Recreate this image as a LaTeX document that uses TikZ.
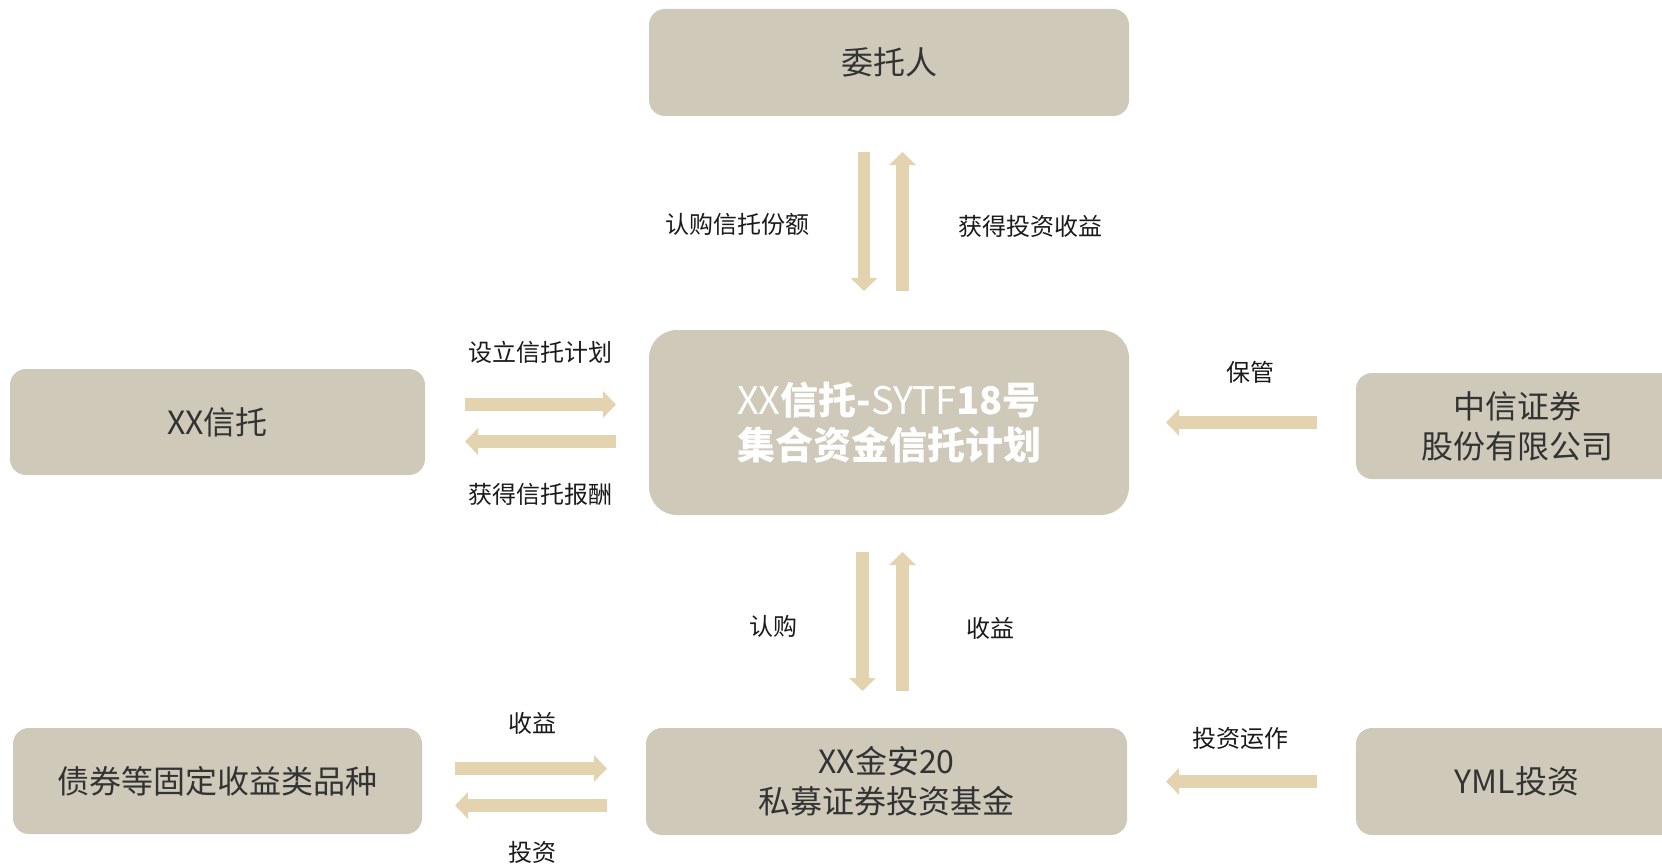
\documentclass[tikz,border=0pt]{standalone}
\usepackage{fontspec}
\setmainfont{Noto Sans CJK SC}
\usetikzlibrary{arrows.meta}
\definecolor{boxfill}{HTML}{CFC9BA}
\definecolor{arrowc}{HTML}{E3D3AF}
\definecolor{txt}{HTML}{333333}
\definecolor{lbltxt}{HTML}{1A1A1A}
\begin{document}
\begin{tikzpicture}[x=1pt,y=-1pt,
  box/.style={fill=boxfill, rounded corners=16pt, minimum height=107pt, inner sep=0pt,
    text=txt, font=\fontsize{32}{40}\selectfont, align=center},
  flow/.style={draw=arrowc, line width=12.5pt, -{Triangle[width=26pt,length=13pt]}},
  lbl/.style={font=\fontsize{24}{28}\selectfont, text=lbltxt, inner sep=0pt}]
\useasboundingbox (0,0) rectangle (1662,864);
% boxes
\node[box, minimum width=480pt] (wt) at (889,62.5) {委托人};
\node[box, minimum width=480pt, minimum height=185pt, rounded corners=28pt, text=white,
      font=\fontsize{38}{45}\selectfont] (plan) at (889,422.5)
      {XX{\bfseries 信托-}SYTF{\bfseries 18号}\\ \bfseries 集合资金信托计划};
\node[box, minimum width=481pt] (fund) at (886.5,781.5) {XX金安20\\私募证券投资基金};
\node[box, minimum width=415pt, minimum height=106pt] (xx) at (217.5,422) {XX信托};
\node[box, minimum width=322pt, minimum height=106pt] (zx) at (1517,426) {中信证券\\股份有限公司};
\node[box, minimum width=322pt] (yml) at (1517,781.5) {YML投资};
\node[box, minimum width=409pt, minimum height=106pt] (zq) at (217.5,781) {债券等固定收益类品种};
% arrow endpoints
\coordinate (t1a) at (864,152);   \coordinate (t1b) at (864,291);
\coordinate (t2a) at (902.5,291); \coordinate (t2b) at (902.5,152);
\coordinate (b1a) at (862.5,552); \coordinate (b1b) at (862.5,691);
\coordinate (b2a) at (902.5,691); \coordinate (b2b) at (902.5,552);
\coordinate (l1a) at (465,404.5); \coordinate (l1b) at (616,404.5);
\coordinate (l2a) at (616,441.5); \coordinate (l2b) at (465,441.5);
\coordinate (m1a) at (455,768.5); \coordinate (m1b) at (607,768.5);
\coordinate (m2a) at (607,805.5); \coordinate (m2b) at (455,805.5);
\coordinate (r1a) at (1317,422.5); \coordinate (r1b) at (1166,422.5);
\coordinate (r2a) at (1317,781.5); \coordinate (r2b) at (1166,781.5);
% arrows
\draw[flow] (t1a) -- (t1b);
\draw[flow] (t2a) -- (t2b);
\draw[flow] (b1a) -- (b1b);
\draw[flow] (b2a) -- (b2b);
\draw[flow] (l1a) -- (l1b);
\draw[flow] (l2a) -- (l2b);
\draw[flow] (m1a) -- (m1b);
\draw[flow] (m2a) -- (m2b);
\draw[flow] (r1a) -- (r1b);
\draw[flow] (r2a) -- (r2b);
% labels
\node[lbl] (lt1) at (737,224) {认购信托份额};
\node[lbl] (lt2) at (1030,226) {获得投资收益};
\node[lbl] (lb1) at (773,626) {认购};
\node[lbl] (lb2) at (990,628) {收益};
\node[lbl] (ll1) at (540,352) {设立信托计划};
\node[lbl] (ll2) at (540,494) {获得信托报酬};
\node[lbl] (lm1) at (532,723) {收益};
\node[lbl] (lm2) at (532,852) {投资};
\node[lbl] (lr1) at (1250,372) {保管};
\node[lbl] (lr2) at (1240,738) {投资运作};
\end{tikzpicture}
\end{document}
